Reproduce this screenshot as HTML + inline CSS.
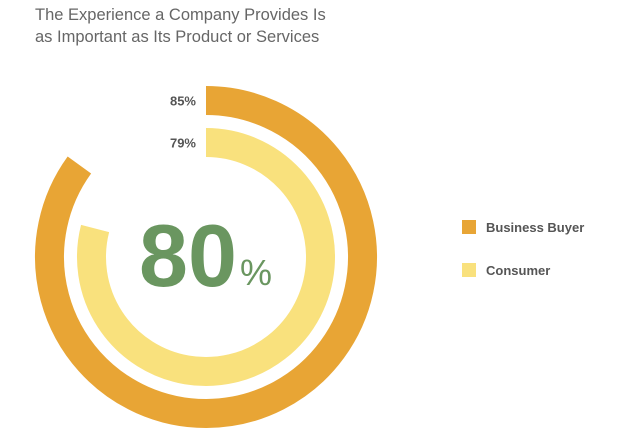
<!DOCTYPE html>
<html><head><meta charset="utf-8"><style>
body{margin:0;background:#fff;width:629px;height:434px;overflow:hidden;font-family:"Liberation Sans",sans-serif}
</style></head><body>
<svg width="629" height="434">
<text x="35" y="20" font-size="16.5" fill="#666">The Experience a Company Provides Is</text>
<text x="35" y="42" font-size="16.5" fill="#666">as Important as Its Product or Services</text>
<g id="rings"></g>
<text x="188" y="286" font-size="88" font-weight="bold" fill="#6a9660" text-anchor="middle">80</text>
<text x="256" y="285" font-size="36" fill="#6a9660" text-anchor="middle">%</text>
<rect x="462" y="220" width="14" height="14" fill="#e8a535"/>
<text x="486" y="232" font-size="13" font-weight="bold" fill="#555">Business Buyer</text>
<rect x="462" y="263" width="14" height="14" fill="#f9e17d"/>
<text x="486" y="275" font-size="13" font-weight="bold" fill="#555">Consumer</text>
</svg>
<script>
const series=["Business Buyer","Consumer"];
const values=[85,79];
const labels=["85%","79%"];
const cx=206,cy=257,radii=[156.5,114.5],w=29,colors=["#e8a535","#f9e17d"];
const g=document.getElementById('rings');
const ns="http://www.w3.org/2000/svg";
values.forEach((v,i)=>{
  const r=radii[i],a=v/100*2*Math.PI;
  const x=cx+r*Math.sin(a),y=cy-r*Math.cos(a);
  const p=document.createElementNS(ns,'path');
  p.setAttribute('d',`M${cx},${cy-r} A${r},${r} 0 ${v>50?1:0} 1 ${x},${y}`);
  p.setAttribute('fill','none');p.setAttribute('stroke',colors[i]);p.setAttribute('stroke-width',w);
  
  
  g.appendChild(p);
  const t=document.createElementNS(ns,'text');
  t.setAttribute('x',cx-10);t.setAttribute('y',cy-r+5);
  t.setAttribute('text-anchor','end');t.setAttribute('font-size','13');t.setAttribute('font-weight','bold');t.setAttribute('fill','#555');
  t.textContent=labels[i];
  
  
  g.appendChild(t);
});
</script>
</body></html>
